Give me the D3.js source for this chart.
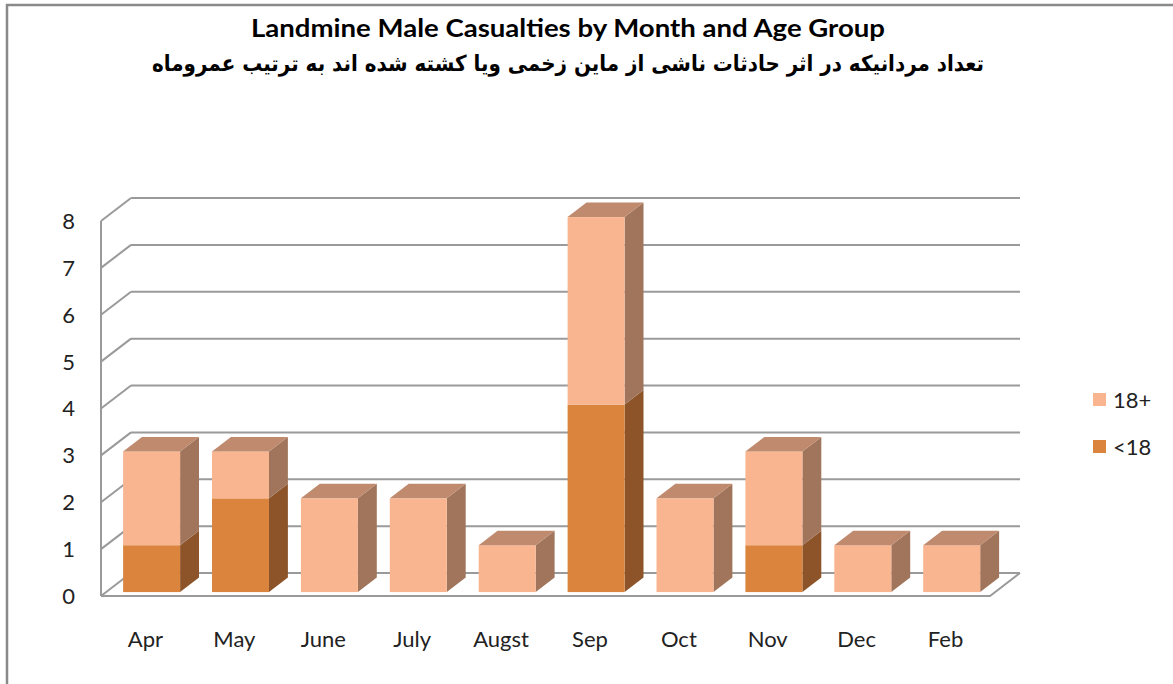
<!DOCTYPE html>
<html>
<head>
<meta charset="utf-8">
<script src="https://cdn.jsdelivr.net/npm/d3@7"></script>
<style>
  html, body { margin: 0; padding: 0; background: #fff; }
  svg { display: block; }
</style>
</head>
<body>
<svg id="chart" width="1173" height="684"></svg>
<script>
// ---- data ----
const categories = ["Apr", "May", "June", "July", "Augst", "Sep", "Oct", "Nov", "Dec", "Feb"];
const under18 = [1, 2, 0, 0, 0, 4, 0, 1, 0, 0];
const adult18 = [2, 1, 2, 2, 1, 4, 2, 2, 1, 1];
const seriesNames = ["18+", "<18"];
const yTicks = [0, 1, 2, 3, 4, 5, 6, 7, 8];
const titleLine1 = "Landmine Male Casualties by Month and Age Group";
const titleLine2 = "تعداد مردانیکه در اثر حادثات ناشی از ماین زخمی ویا کشته شده اند به ترتیب عمروماه";

// ---- layout ----
const svg = d3.select("#chart");
const frontLeft = 101, frontRight = 990;
const depthX = 30, depthY = -23;         // full 3D depth offset
const barDepth0 = 0.17, barDepthFrac = 0.63;
const x = d3.scaleBand().domain(categories).range([frontLeft, frontRight]).padding(0);
const y = d3.scaleLinear().domain([0, 8]).range([596, 221]);
const barOffset = 17, barWidth = 57;

const colors = {
  adultFront: "#F9B590", adultSide: "#A0755B", adultTop: "#BF8A6E",
  youthFront: "#DA843D", youthSide: "#8C5428", youthTop: "#B06A30"
};
const gridColor = "#9A9A9A";
const font = "Lato, 'Open Sans', sans-serif";

// outer frame
svg.append("rect").attr("x", 7).attr("y", 5).attr("width", 1180).attr("height", 700)
  .attr("fill", "none").attr("stroke", "#8A8A8A").attr("stroke-width", 2.5);

// titles
svg.append("text").attr("x", 568).attr("y", 37).attr("text-anchor", "middle")
  .attr("font-family", font).attr("font-weight", "bold")
  .attr("font-size", 25).attr("fill", "#000")
  .attr("textLength", 634).attr("lengthAdjust", "spacingAndGlyphs")
  .text(titleLine1);
svg.append("text").attr("x", 568).attr("y", 71).attr("text-anchor", "middle")
  .attr("font-family", "'DejaVu Sans', sans-serif").attr("font-weight", "bold")
  .attr("font-size", 22).attr("fill", "#000").attr("direction", "rtl")
  .attr("textLength", 832).attr("lengthAdjust", "spacingAndGlyphs")
  .text(titleLine2);

// walls & gridlines
const grid = svg.append("g").attr("stroke", gridColor).attr("stroke-width", 2).attr("fill", "none");
grid.selectAll("line.back").data(yTicks).join("line").attr("class", "back")
  .attr("x1", frontLeft + depthX).attr("x2", frontRight + depthX)
  .attr("y1", d => y(d) + depthY).attr("y2", d => y(d) + depthY);
grid.selectAll("line.side").data(yTicks).join("line").attr("class", "side")
  .attr("x1", frontLeft).attr("x2", frontLeft + depthX)
  .attr("y1", d => y(d)).attr("y2", d => y(d) + depthY);
grid.append("line").attr("x1", frontLeft).attr("x2", frontLeft)
  .attr("y1", y(8)).attr("y2", y(0));
grid.append("path").attr("d",
  `M${frontLeft},${y(0)} L${frontRight},${y(0)} L${frontRight + depthX},${y(0) + depthY}`);

// y tick labels
svg.append("g").selectAll("text").data(yTicks).join("text")
  .attr("x", 75).attr("y", d => y(d)).attr("dy", "0.36em").attr("text-anchor", "end")
  .attr("font-family", font).attr("font-size", 22).attr("fill", "#222")
  .text(d => d);

// x labels
svg.append("g").selectAll("text").data(categories).join("text")
  .attr("x", d => x(d) + x.bandwidth() / 2).attr("y", 647).attr("text-anchor", "middle")
  .attr("font-family", font).attr("font-size", 22).attr("fill", "#222")
  .text(d => d);

// bars (3D stacked)
const bx = barDepth0 * depthX, by = barDepth0 * depthY;
const ddx = barDepthFrac * depthX, ddy = barDepthFrac * depthY;
const bars = svg.append("g");
categories.forEach((c, i) => {
  const x0 = x(c) + barOffset + bx;
  const x1 = x0 + barWidth;
  const segs = [
    { v0: 0, v1: under18[i], front: colors.youthFront, side: colors.youthSide, top: colors.youthTop },
    { v0: under18[i], v1: under18[i] + adult18[i], front: colors.adultFront, side: colors.adultSide, top: colors.adultTop }
  ].filter(s => s.v1 > s.v0);
  const g = bars.append("g");
  segs.forEach((s, k) => {
    const yb = y(s.v0) + by, yt = y(s.v1) + by;
    g.append("path").attr("fill", s.side)
      .attr("d", `M${x1},${yb} L${x1 + ddx},${yb + ddy} L${x1 + ddx},${yt + ddy} L${x1},${yt} Z`);
    g.append("rect").attr("x", x0).attr("y", yt).attr("width", barWidth).attr("height", yb - yt)
      .attr("fill", s.front);
    if (k === segs.length - 1) {
      g.append("path").attr("fill", s.top)
        .attr("d", `M${x0},${yt} L${x0 + ddx},${yt + ddy} L${x1 + ddx},${yt + ddy} L${x1},${yt} Z`);
    }
  });
});

// legend
const legend = svg.append("g");
const legendItems = [
  { name: seriesNames[0], color: colors.adultFront, y: 400 },
  { name: seriesNames[1], color: colors.youthFront, y: 447 }
];
legendItems.forEach(it => {
  legend.append("rect").attr("x", 1093).attr("y", it.y - 7).attr("width", 13).attr("height", 13)
    .attr("fill", it.color);
  legend.append("text").attr("x", 1113).attr("y", it.y).attr("dy", "0.36em")
    .attr("font-family", font).attr("font-size", 22).attr("fill", "#222")
    .text(it.name);
});
</script>
</body>
</html>
